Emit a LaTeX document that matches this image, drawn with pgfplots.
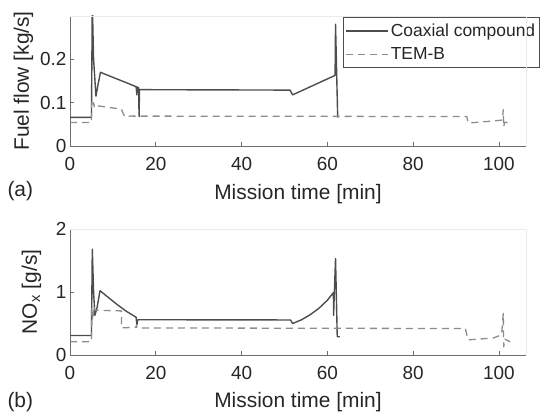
\documentclass[border=0pt]{standalone}
\usepackage{pgfplots}
\pgfplotsset{compat=1.18}
\usepackage{fontspec}
\setmainfont{Liberation Sans}
\definecolor{solidc}{HTML}{4D4D4D}
\definecolor{dashc}{HTML}{8C8C8C}
\definecolor{axc}{HTML}{6E6E6E}
\definecolor{txt}{HTML}{262626}

\pgfplotsset{
 mystyle/.style={
  scale only axis, width=456bp,
  xmin=0, xmax=106.3,
  axis x line=bottom, axis y line=left,
  axis line style={-, draw=axc, line width=0.9bp},
  tick align=inside,
  major tick length=4bp,
  every tick/.style={draw=axc, line width=0.8bp},
  xtick={0,20,40,60,80,100},
  xticklabels={0,20,40,60,80,100},
  ticklabel style={font=\fontsize{19}{22}\selectfont, text=txt},
  xticklabel style={yshift=-8bp},
  label style={font=\fontsize{21}{24}\selectfont, text=txt},
  /pgf/number format/assume math mode=true,
  clip=true,
  legend image code/.code={\draw[##1] (0bp,0bp) -- (42bp,0bp);},
 },
 coax/.style={solidc, line width=1.4bp, line join=round},
 temb/.style={dashc, line width=1.3bp, dash pattern=on 7bp off 5bp, line join=round},
}

\begin{document}
\begin{tikzpicture}
\path[use as bounding box] (0,0) rectangle (542bp,416bp);

\begin{axis}[mystyle, name=top, at={(70bp,270bp)}, anchor=south west,
  height=130bp, ymin=0, ymax=0.3,
  ytick={0,0.1,0.2}, yticklabels={0,0.1,0.2},
  xlabel={Mission time [min]}, ylabel={Fuel flow [kg/s]},
  xlabel style={at={(axis description cs:0.5,-0.408)}, anchor=base},
  ylabel style={at={(axis description cs:-0.09,0.5)}, anchor=base},
  legend style={at={(axis description cs:1.03,0.99)}, anchor=north east,
    draw=solidc, line width=0.9bp, fill=white,
    font=\fontsize{17.5}{21}\selectfont, text=txt,
    inner xsep=2bp, inner ysep=4bp, row sep=6bp},
  legend cell align=left]
\addplot[coax] table {
x y
0 0.066
5.0 0.066
5.2 0.33
5.5 0.20
6.05 0.115
6.5 0.14
7.1 0.170
15.4 0.137
15.6 0.118
15.7 0.136
16.0 0.134
16.1 0.068
16.2 0.130
51.3 0.129
51.9 0.118
61.8 0.163
61.9 0.281
62.4 0.067
62.6 0.067
};
\addlegendentry{Coaxial compound}
\addplot[temb] table {
x y
0 0.054
5.0 0.054
5.0 0.100
5.3 0.090
5.5 0.100
5.7 0.088
6.2 0.093
12.0 0.085
12.5 0.072
13.2 0.066
14.0 0.069
92.5 0.068
92.8 0.053
99.0 0.058
100.8 0.060
101.0 0.084
101.1 0.044
101.3 0.055
102.6 0.053
};
\addlegendentry{TEM-B}
\end{axis}
\draw[black!8, line width=0.8bp] (top.north west) -- (top.north east) -- (top.south east);

\begin{axis}[mystyle, name=bot, at={(70bp,61bp)}, anchor=south west,
  height=126bp, ymin=0, ymax=2,
  ytick={0,1,2}, yticklabels={0,1,2},
  xlabel={Mission time [min]}, ylabel={NO\textsubscript{x} [g/s]},
  xlabel style={at={(axis description cs:0.5,-0.413)}, anchor=base},
  ylabel style={at={(axis description cs:-0.0724,0.5)}, anchor=base}]
\addplot[coax] table {
x y
0 0.31
5.0 0.31
5.2 1.68
5.5 1.0
5.8 0.63
6.3 0.75
7.0 1.02
9.0 0.91
11.0 0.80
13.0 0.70
15.4 0.60
15.6 0.48
15.8 0.56
51.4 0.556
51.9 0.50
54 0.56
56 0.64
58 0.74
60 0.87
61.4 0.99
61.45 0.63
61.6 0.95
61.9 1.53
62.3 0.29
62.9 0.29
};
\addplot[temb] table {
x y
0 0.21
5.0 0.21
5.0 0.75
5.3 0.55
5.6 0.78
5.8 0.71
12.0 0.70
12.0 0.43
15.4 0.44
15.5 0.48
15.6 0.43
92.2 0.42
92.3 0.38
92.8 0.24
98.7 0.27
100.6 0.32
101.0 0.66
101.1 0.13
101.4 0.25
102.6 0.21
};
\end{axis}
\draw[black!8, line width=0.8bp] (bot.north west) -- (bot.north east) -- (bot.south east);

\node[anchor=base west, font=\fontsize{21}{24}\selectfont, text=txt] at (4bp,219bp) {(a)};
\node[anchor=base west, font=\fontsize{21}{24}\selectfont, text=txt] at (4bp,9bp) {(b)};
\end{tikzpicture}
\end{document}
